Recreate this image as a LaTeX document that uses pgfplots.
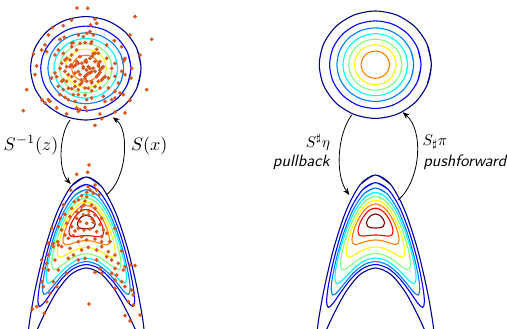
\documentclass[border=0pt]{standalone}
\usepackage{graphicx}
\usepackage{pgfplots}
\pgfplotsset{compat=1.18}
\usepackage{pgfplotstable}
\usetikzlibrary{arrows.meta}

\definecolor{j1}{rgb}{0,0,0.56}
\definecolor{j2}{rgb}{0,0,1}
\definecolor{j3}{rgb}{0,0.5,1}
\definecolor{j4}{rgb}{0,1,1}
\definecolor{j5}{rgb}{0.5,1,0.5}
\definecolor{j6}{rgb}{1,1,0}
\definecolor{j7}{rgb}{1,0.5,0}
\definecolor{j8}{rgb}{1,0,0}
\definecolor{j9}{rgb}{0.5,0,0}
\definecolor{dots}{rgb}{0.85,0.33,0.1}

\tikzset{ct/.style={smooth, line width=1.1pt, mark=none}}

% ---- Gaussian reference contours (centred, px) ----
\pgfplotstableread{
x y
51.74 -20.55
56 0
51.74 20.55
39.60 37.97
21.43 49.61
0 53.7
-21.43 49.61
-39.60 37.97
-51.74 20.55
-56 0
-51.74 -20.55
-39.60 -37.97
-21.43 -49.61
0 -53.7
21.43 -49.61
39.60 -37.97
51.74 -20.55
56 0
51.74 20.55
}\cA
\pgfplotstableread{
x y
42.22 -16.76
45.7 0
42.22 16.76
32.31 30.97
17.49 40.47
0 43.8
-17.49 40.47
-32.31 30.97
-42.22 16.76
-45.7 0
-42.22 -16.76
-32.31 -30.97
-17.49 -40.47
0 -43.8
17.49 -40.47
32.31 -30.97
42.22 -16.76
45.7 0
42.22 16.76
}\cB
\pgfplotstableread{
x y
35.48 -14.08
38.4 0
35.48 14.08
27.15 26.02
14.70 34.00
0 36.8
-14.70 34.00
-27.15 26.02
-35.48 14.08
-38.4 0
-35.48 -14.08
-27.15 -26.02
-14.70 -34.00
0 -36.8
14.70 -34.00
27.15 -26.02
35.48 -14.08
38.4 0
35.48 14.08
}\cC
\pgfplotstableread{
x y
29.84 -11.86
32.3 0
29.84 11.86
22.84 21.92
12.36 28.64
0 31.0
-12.36 28.64
-22.84 21.92
-29.84 11.86
-32.3 0
-29.84 -11.86
-22.84 -21.92
-12.36 -28.64
0 -31.0
12.36 -28.64
22.84 -21.92
29.84 -11.86
32.3 0
29.84 11.86
}\cD
\pgfplotstableread{
x y
24.58 -9.76
26.6 0
24.58 9.76
18.81 18.03
10.18 23.56
0 25.5
-10.18 23.56
-18.81 18.03
-24.58 9.76
-26.6 0
-24.58 -9.76
-18.81 -18.03
-10.18 -23.56
0 -25.5
10.18 -23.56
18.81 -18.03
24.58 -9.76
26.6 0
24.58 9.76
}\cE
\pgfplotstableread{
x y
19.22 -7.63
20.8 0
19.22 7.63
14.71 14.11
7.96 18.43
0 19.95
-7.96 18.43
-14.71 14.11
-19.22 7.63
-20.8 0
-19.22 -7.63
-14.71 -14.11
-7.96 -18.43
0 -19.95
7.96 -18.43
14.71 -14.11
19.22 -7.63
20.8 0
19.22 7.63
}\cF
\pgfplotstableread{
x y
13.12 -5.20
14.2 0
13.12 5.20
10.04 9.62
5.43 12.56
0 13.6
-5.43 12.56
-10.04 9.62
-13.12 5.20
-14.2 0
-13.12 -5.20
-10.04 -9.62
-5.43 -12.56
0 -13.6
5.43 -12.56
10.04 -9.62
13.12 -5.20
14.2 0
13.12 5.20
}\cG

% ---- banana target contours (centred, px) ----
\pgfplotstableread{
x y
-15.27 35.92
0 45.5
15.27 35.92
29.5 9.45
41.72 -27.73
51.09 -67.1
56.99 -99.99
59 -119.8
56.99 -124.06
51.09 -113.6
41.72 -93.49
29.5 -71.09
15.27 -53.91
0 -47.5
-15.27 -53.91
-29.5 -71.09
-41.72 -93.49
-51.09 -113.6
-56.99 -124.06
-59 -119.8
-56.99 -99.99
-51.09 -67.1
-41.72 -27.73
-29.5 9.45
-15.27 35.92
0 45.5
15.27 35.92
}\bA
\pgfplotstableread{
x y
-12.66 31.08
0 37.8
12.66 31.08
24.45 12.49
34.58 -13.77
42.35 -41.85
47.23 -65.79
48.9 -81
47.23 -86.96
42.35 -82.75
34.58 -71.61
24.45 -58.35
12.66 -47.93
0 -44
-12.66 -47.93
-24.45 -58.35
-34.58 -71.61
-42.35 -82.75
-47.23 -86.96
-48.9 -81
-47.23 -65.79
-42.35 -41.85
-34.58 -13.77
-24.45 12.49
-12.66 31.08
0 37.8
12.66 31.08
}\bB
\pgfplotstableread{
x y
-11.47 26.80
0 32.5
11.47 26.80
22.15 11.02
31.32 -11.27
38.36 -35.13
42.79 -55.50
44.3 -68.5
42.79 -74.52
38.36 -71.88
31.32 -63.24
22.15 -52.64
11.47 -44.19
0 -41
-11.47 -44.19
-22.15 -52.64
-31.32 -63.24
-38.36 -71.88
-42.79 -74.52
-44.3 -68.5
-42.79 -55.50
-38.36 -35.13
-31.32 -11.27
-22.15 11.02
-11.47 26.80
0 32.5
11.47 26.80
}\bC
\pgfplotstableread{
x y
-10.51 23.32
0 28.1
10.51 23.32
20.3 10.08
28.71 -8.63
35.16 -28.70
39.22 -45.91
40.6 -57
39.22 -62.89
35.16 -61.5
28.71 -55.02
20.3 -46.73
10.51 -40.04
0 -37.5
-10.51 -40.04
-20.3 -46.73
-28.71 -55.02
-35.16 -61.5
-39.22 -62.89
-40.6 -57
-39.22 -45.91
-35.16 -28.70
-28.71 -8.63
-20.3 10.08
-10.51 23.32
0 28.1
10.51 23.32
}\bD
\pgfplotstableread{
x y
-9.06 20.50
0 24.2
9.06 20.50
17.5 10.21
24.75 -4.39
30.31 -20.15
33.81 -33.86
35 -43
33.81 -48.66
30.31 -48.75
24.75 -44.83
17.5 -39.33
9.06 -34.75
0 -33
-9.06 -34.75
-17.5 -39.33
-24.75 -44.83
-30.31 -48.75
-33.81 -48.66
-35 -43
-33.81 -33.86
-30.31 -20.15
-24.75 -4.39
-17.5 10.21
-9.06 20.50
0 24.2
9.06 20.50
}\bE
\pgfplotstableread{
x y
-7.58 17.62
0 20.4
7.58 17.62
14.65 9.92
20.72 -1.08
25.37 -13.05
28.30 -23.64
29.3 -31
28.30 -35.78
25.37 -36.5
20.72 -34.24
14.65 -30.70
7.58 -27.68
0 -26.5
-7.58 -27.68
-14.65 -30.70
-20.72 -34.24
-25.37 -36.5
-28.30 -35.78
-29.3 -31
-28.30 -23.64
-25.37 -13.05
-20.72 -1.08
-14.65 9.92
-7.58 17.62
0 20.4
7.58 17.62
}\bF
\pgfplotstableread{
x y
-6.08 14.67
0 16.5
6.08 14.67
11.75 9.54
16.62 2.17
20.35 -6.0
22.70 -13.46
23.5 -19
22.70 -22.78
20.35 -24.0
16.62 -23.29
11.75 -21.64
6.08 -20.11
0 -19.5
-6.08 -20.11
-11.75 -21.64
-16.62 -23.29
-20.35 -24.0
-22.70 -22.78
-23.5 -19
-22.70 -13.46
-20.35 -6.0
-16.62 2.17
-11.75 9.54
-6.08 14.67
0 16.5
6.08 14.67
}\bG
\pgfplotstableread{
x y
-4.53 11.16
0 12.3
4.53 11.16
8.75 7.97
12.37 3.35
15.16 -1.88
16.90 -6.80
17.5 -10.7
16.90 -13.73
15.16 -15.28
12.37 -15.60
8.75 -15.24
4.53 -14.73
0 -14.5
-4.53 -14.73
-8.75 -15.24
-12.37 -15.60
-15.16 -15.28
-16.90 -13.73
-17.5 -10.7
-16.90 -6.80
-15.16 -1.88
-12.37 3.35
-8.75 7.97
-4.53 11.16
0 12.3
4.53 11.16
}\bH
\pgfplotstableread{
x y
-4.5 4.93
0 6.5
4.5 4.93
7.79 1.15
9 -2.8
7.79 -5.85
4.5 -7.2
0 -7.5
-4.5 -7.2
-7.79 -5.85
-9 -2.8
-7.79 1.15
-4.5 4.93
0 6.5
4.5 4.93
}\bI

% ---- samples (image px, y downward) ----
\pgfplotstableread{
x y
77 8
87.7 8.3
135 16.7
95 19
96.7 23.3
71.7 20
52.3 27.7
63.3 25.7
90.7 25
151.7 39.3
130 35
48.3 35
90 31.7
86.7 33.3
78.3 35
93.3 35
83.3 36.7
60 39.3
64.3 37.3
114.3 40.7
121.7 46.7
45 45
73.3 42.7
71.7 46.7
76.7 50
80 43.3
85 42.7
91 43.3
96.7 49.3
95 53.3
106.7 45
41.7 50
46.7 51.7
58.3 50
55 55
33.3 54
71.7 55
66.7 58.3
70 60
80 56.7
90 58.3
92.3 56
85 61.7
81.7 63.3
95 61.7
100 61.7
98.3 66
101.7 68.3
93.3 68.3
83.3 66.7
86.7 70
125 58.3
124 60.7
140 55
131.7 68.3
36.7 66
61.7 63.3
66.7 66.7
71 65
75.7 65
115 63.3
111.7 68.3
26.7 89.7
23.3 110.7
146.7 89.7
130 100.3
125 113
115 112
100 114
101.7 118.7
95 125.3
66.7 114
56.7 108
48.3 99.7
45 103
42 100
50 101.3
60 94.7
65 97.3
68.3 99.7
75 101.3
76.7 108
80 109.7
85 107.3
86.7 110.7
78.3 111.3
73.3 94.7
78.3 94.7
86.7 99.7
91.7 98
103.3 96.3
105 101.3
111.7 99.7
115 98
115 91.3
120 93
123.3 94.7
108.3 88
100 88
91.7 90.7
85 88
78.3 89.7
71.7 88.7
63.3 89.7
58.3 86.3
61.7 81.3
66.7 81.3
75 81.3
81.7 83
86.7 81.3
91.7 83
98.3 81.3
103.3 78
108.3 78
115 76.3
118.3 83
85 76.3
80 74.7
90 73
95 71.3
98.3 74.7
75 73
68.3 74.7
65 71.3
55 73
51.7 78
35 74.7
121.7 71.3
125 74.7
131 78
86 60
100 70
96.7 76.7
91.7 71.7
86.7 75
81.7 80
71.7 76.7
73.3 66.7
78.3 63.3
83.3 68.3
88.3 66.7
93.3 53.3
103.3 66.7
105 76.7
106.7 58.3
65 60
63.3 80
68.3 88.3
71.7 43.3
91.7 41.7
86.7 62
98.3 64
100 72.5
88.3 73.3
85 78.3
91.7 81.7
80 84.5
70 66.7
76.7 61.5
95 86.7
88.3 88.3
101.7 80
63.3 53.3
60 68.3
56.7 76.7
98.3 53.3
90 68.3
78.3 71.7
75 86.7
85 95
}\sampT
\pgfplotstableread{
x y
89 165
87.7 172.3
76.7 174.3
95 185
88.3 186.7
90 190
86.7 192.3
81.7 195.7
86.7 196.7
78.3 200
85 201
74.3 201.7
96.7 190
99 195
63.3 205
81.7 206.7
91.7 205
95 208.3
71.7 208.3
76.7 211.7
65 214.3
70 216.7
83.3 215
88.3 215
95 215
101.7 218.3
80 221.7
86.7 223.3
93.3 222.3
100 224.3
66.7 223.3
71.7 226.7
78.3 228.3
90 229
96.7 231.7
103.3 230
61.7 230
65 235
68.3 238.3
73.3 235.7
81.7 236.7
86.7 240
95 239
101.7 236.7
106.7 233.3
115 228.3
58.3 226.7
51.7 228.3
60 218.3
48.3 243.3
57.7 241.7
101.7 241.7
110 241.7
70.7 190
93.3 193.3
81.7 210
76.7 218.3
78.3 241.7
53.3 243.3
84 205
89 211
92 219
84 230
75 231
53.3 246.7
58.3 245
48.3 255
46.7 263.3
55 260
58.3 270
43.3 268.3
53.3 281.7
56.7 286.7
50 293.3
41.7 281.7
46.7 301.7
36.7 306.7
32.3 309
44.3 313.3
66.7 273.3
95 272.3
100 269
101.7 273.3
111.7 273.3
116.7 275
115 268.3
123.3 270
125 266.7
130 265
135 265.7
108.3 251.7
115 255
121.7 251
111.7 260
118.3 263.3
115 288.3
121.7 281.7
125 286.7
131.7 290
133.3 295
128.3 301.7
133.3 305
89 304
125 315.7
130 321
140 315
85 258.3
78.3 260
73.3 255
101.7 246.7
96.7 250
81.7 250
70 248.3
88.3 247.3
61.7 246.7
68.3 258.3
96.7 260
106.7 256.7
48.3 270
41.7 260
115 280
43.3 286.7
}\sampB

\begin{document}
\begin{tikzpicture}
\path (0pt,0pt) rectangle (507pt,329pt);

% left reference
\begin{axis}[hide axis, x=0.986pt, y=0.963pt, xmin=-60, xmax=60, ymin=-60, ymax=60,
  at={(85.8pt,260.7pt)}, anchor=center, clip=false]
\addplot[ct,j1] table {\cA};
\addplot[ct,j2] table {\cB};
\addplot[ct,j3] table {\cC};
\addplot[ct,j4] table {\cD};
\addplot[ct,j5] table {\cE};
\addplot[ct,j6] table {\cF};
\addplot[ct,j7] table {\cG};
\end{axis}

% right reference
\begin{axis}[hide axis, x=1pt, y=1pt, xmin=-60, xmax=60, ymin=-60, ymax=60,
  at={(375.3pt,264.3pt)}, anchor=center, clip=false]
\addplot[ct,j1] table {\cA};
\addplot[ct,j2] table {\cB};
\addplot[ct,j3] table {\cC};
\addplot[ct,j4] table {\cD};
\addplot[ct,j5] table {\cE};
\addplot[ct,j6] table {\cF};
\addplot[ct,j7] table {\cG};
\end{axis}

% left target
\begin{axis}[hide axis, x=0.99pt, y=0.978pt, xmin=-65, xmax=65, ymin=-109.8, ymax=50,
  at={(21.95pt,0.12pt)}, anchor=south west]
\addplot[ct,j1] table {\bA};
\addplot[ct,j2] table {\bB};
\addplot[ct,j3] table {\bC};
\addplot[ct,j4] table {\bD};
\addplot[ct,j5] table {\bE};
\addplot[ct,j6] table {\bF};
\addplot[ct,j7] table {\bG};
\addplot[ct,j8] table {\bH};
\addplot[ct,j9] table {\bI};
\end{axis}

% right target
\begin{axis}[hide axis, x=1pt, y=1pt, xmin=-65, xmax=65, ymin=-108.5, ymax=50,
  at={(310.5pt,0pt)}, anchor=south west]
\addplot[ct,j1] table {\bA};
\addplot[ct,j2] table {\bB};
\addplot[ct,j3] table {\bC};
\addplot[ct,j4] table {\bD};
\addplot[ct,j5] table {\bE};
\addplot[ct,j6] table {\bF};
\addplot[ct,j7] table {\bG};
\addplot[ct,j8] table {\bH};
\addplot[ct,j9] table {\bI};
\end{axis}

% samples, arrows and labels (image pixel frame)
\begin{axis}[hide axis, x=1pt, y=1pt, xmin=0, xmax=507, ymin=0, ymax=329, y dir=reverse,
  at={(0pt,0pt)}, anchor=south west, clip=false]
\addplot[only marks, mark=*, mark size=1.7pt, color=dots] table {\sampT};
\addplot[only marks, mark=*, mark size=1.7pt, color=dots] table {\sampB};

\draw[-{Stealth[length=7pt,width=5.5pt]}, line width=0.8pt] (70,120) .. controls (59,135) and (58,170) .. (70.7,184);
\draw[-{Stealth[length=7pt,width=5.5pt]}, line width=0.8pt] (106,195) .. controls (127,180) and (130,130) .. (112.7,117.3);
\draw[-{Stealth[length=7pt,width=5.5pt]}, line width=0.8pt] (351.7,115) .. controls (337,135) and (335,175) .. (349.3,195);
\draw[-{Stealth[length=7pt,width=5.5pt]}, line width=0.8pt] (398.3,200) .. controls (421,180) and (424,130) .. (402.7,112.3);

\node[inner sep=0pt] at (31,145) {\scalebox{1.8}{$S^{-1}(z)$}};
\node[inner sep=0pt] at (149.2,145.8) {\scalebox{1.8}{$S(x)$}};
\node[inner sep=0pt] at (318,142.5) {\scalebox{1.55}{$S^{\sharp}\eta$}};
\node[inner sep=0pt] at (435,142.5) {\scalebox{1.55}{$S_{\sharp}\pi$}};
\node[inner sep=0pt, anchor=east] at (330,162) {\scalebox{1.65}{\sffamily\slshape pullback}};
\node[inner sep=0pt, anchor=east] at (506.5,162) {\scalebox{1.65}{\sffamily\slshape pushforward}};
\end{axis}
\end{tikzpicture}
\end{document}
